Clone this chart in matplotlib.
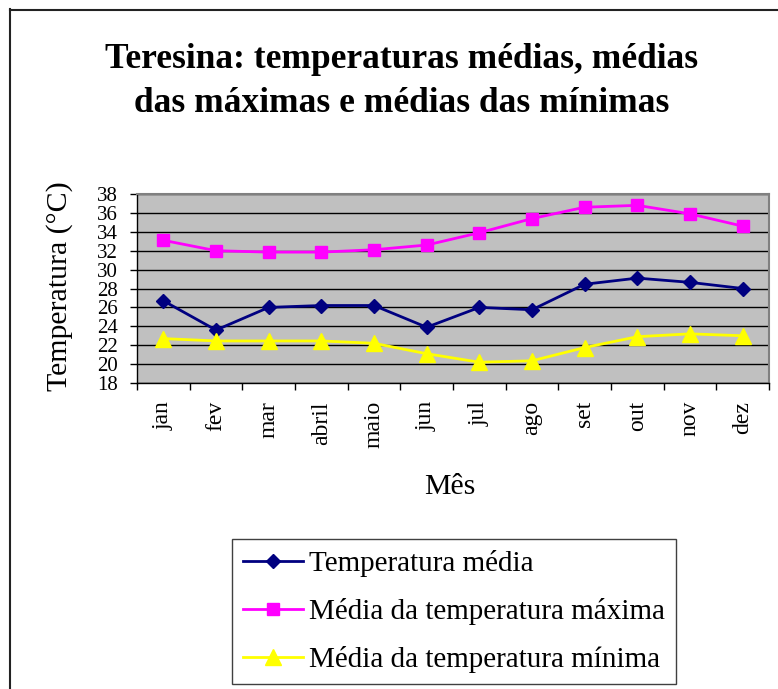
import matplotlib
matplotlib.use('Agg')
import matplotlib.pyplot as plt
from matplotlib.lines import Line2D
from matplotlib.ticker import FixedLocator

months = ['jan', 'fev', 'mar', 'abril', 'maio', 'jun', 'jul', 'ago', 'set', 'out', 'nov', 'dez']
temp_media = [26.7, 23.6, 26.0, 26.2, 26.2, 23.9, 26.0, 25.75, 28.45, 29.1, 28.65, 28.0]
temp_max = [33.1, 32.0, 31.85, 31.85, 32.1, 32.6, 33.9, 35.4, 36.6, 36.8, 35.9, 34.6]
temp_min = [22.7, 22.45, 22.45, 22.45, 22.2, 21.1, 20.2, 20.35, 21.75, 22.9, 23.2, 23.0]
yticks = list(range(18, 40, 2))

labels = ['Temperatura média', 'Média da temperatura máxima', 'Média da temperatura mínima']
title1 = 'Teresina: temperaturas médias, médias'
title2 = 'das máximas e médias das mínimas'

plt.rcParams['font.family'] = ['Liberation Serif', 'DejaVu Serif']

W, H = 778, 689
fig = plt.figure(figsize=(W / 100, H / 100), dpi=100)
fig.patch.set_facecolor('white')

# outer chart border (left & top visible)
fig.add_artist(Line2D([9.5 / W, 9.5 / W], [1 - 9 / H, -0.05], transform=fig.transFigure,
                      color='#222222', lw=1.5))
fig.add_artist(Line2D([9.5 / W, 1.05], [1 - 9.5 / H, 1 - 9.5 / H], transform=fig.transFigure,
                      color='#222222', lw=1.5))

left, right, top, bottom = 137, 769, 194, 383
ax = fig.add_axes([left / W, 1 - bottom / H, (right - left) / W, (bottom - top) / H])
ax.set_facecolor('#C0C0C0')

x = list(range(len(months)))
ax.plot(x, temp_media, color='#000080', lw=2, marker='D', markersize=7.5, label=labels[0], zorder=5)
ax.plot(x, temp_max, color='#FF00FF', lw=2, marker='s', markersize=9, label=labels[1], zorder=5)
ax.plot(x, temp_min, color='#FFFF00', lw=2, marker='^', markersize=11, label=labels[2], zorder=5)

ax.set_xlim(-0.5, len(months) - 0.5)
ax.set_ylim(18, 38)
ax.set_yticks(yticks)
ax.set_yticklabels([str(v) for v in yticks], fontsize=15)
ax.yaxis.grid(True, color='black', lw=1)
ax.set_axisbelow(True)

ax.set_xticks(x)
ax.set_xticklabels(months, rotation=90, fontsize=17)
ax.xaxis.set_minor_locator(FixedLocator([i - 0.5 for i in range(len(months) + 1)]))
ax.tick_params(axis='x', which='major', length=0, pad=13)
ax.tick_params(axis='x', which='minor', length=5, width=1, direction='out', color='black')
ax.tick_params(axis='y', which='major', length=5, width=1, direction='out', pad=9, color='black')

for s in ['top', 'right']:
    ax.spines[s].set_color('#808080')
    ax.spines[s].set_linewidth(1.5)
for s in ['left', 'bottom']:
    ax.spines[s].set_color('black')
    ax.spines[s].set_linewidth(1)

fig.text(60 / W, 1 - 286 / H, 'Temperatura (°C)', rotation=90, ha='center', va='center', fontsize=21.5)
fig.text(450 / W, 1 - 487 / H, 'Mês', ha='center', va='center', fontsize=21.5)

fig.text(402 / W, 1 - 68 / H, title1, ha='center', va='baseline', fontsize=25.5, fontweight='bold')
fig.text(402 / W, 1 - 112 / H, title2, ha='center', va='baseline', fontsize=25.5, fontweight='bold')

leg = fig.legend(loc='lower left', bbox_to_anchor=(232 / W, 1 - 684 / H), fontsize=21,
                 frameon=True, fancybox=False, edgecolor='#404040', framealpha=1,
                 handlelength=2.05, handletextpad=0.22, labelspacing=0.72, borderpad=0.38,
                 borderaxespad=0)
leg.get_frame().set_linewidth(1)

fig.savefig('out.png', dpi=100)
